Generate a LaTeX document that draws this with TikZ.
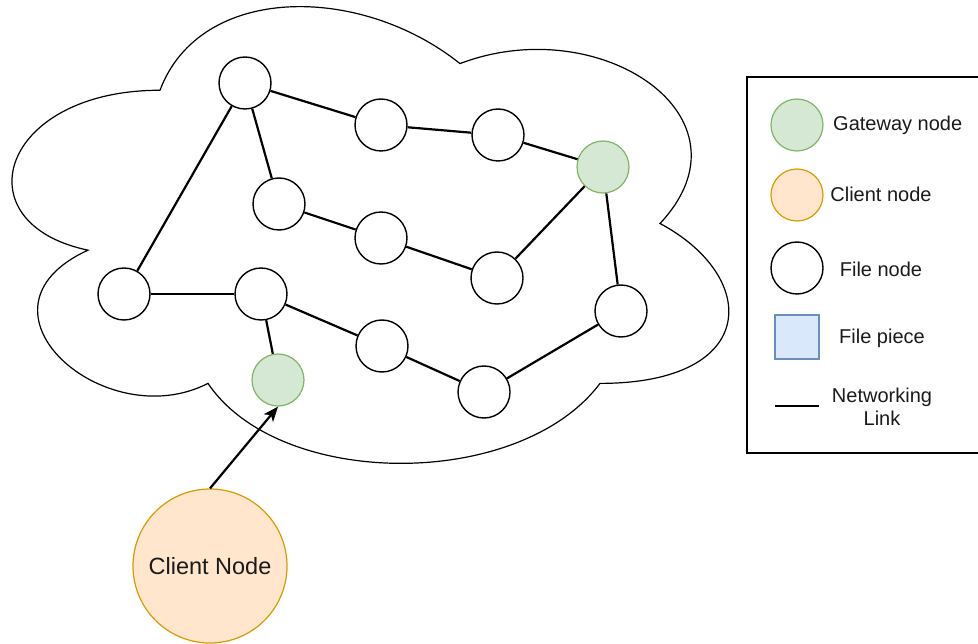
\documentclass[tikz,border=0pt]{standalone}
\usepackage{fontspec}
\setmainfont{Liberation Sans}
\usetikzlibrary{arrows.meta}
\definecolor{gwfill}{HTML}{D5E8D4}
\definecolor{gwline}{HTML}{82B366}
\definecolor{clfill}{HTML}{FFE6CC}
\definecolor{clline}{HTML}{D79B00}
\definecolor{fpfill}{HTML}{DAE8FC}
\definecolor{fpline}{HTML}{6C8EBF}
\definecolor{txt}{HTML}{1A1A1A}
\tikzset{
  filenode/.style={circle, draw=black, line width=1.4pt, fill=white, minimum size=52pt, inner sep=0pt},
  gatenode/.style={circle, draw=gwline, line width=1.2pt, fill=gwfill, minimum size=52pt, inner sep=0pt},
  clientbig/.style={circle, draw=clline, line width=1.2pt, fill=clfill, minimum size=154pt, inner sep=0pt, font=\fontsize{23.5}{27}\selectfont, text=txt},
  clientsmall/.style={circle, draw=clline, line width=1.2pt, fill=clfill, minimum size=52pt, inner sep=0pt},
  piecebox/.style={rectangle, draw=fpline, line width=1.2pt, fill=fpfill, minimum size=44pt, inner sep=0pt},
  netlink/.style={line width=2.2pt, black},
  legtext/.style={font=\fontsize{20}{23}\selectfont, text=txt, align=center, inner sep=0pt},
  cloudline/.style={line width=1.2pt, black}
}
\begin{document}
\begin{tikzpicture}[x=1pt, y=-1pt]
\useasboundingbox (0,0) rectangle (978,644);
% cloud
\draw[cloudline] (160,90.25)
  .. controls (0,90.25) and (-40,223.5) .. (88,250.15)
  .. controls (-40,308.8) and (104,436.7) .. (208,383.4)
  .. controls (280,490) and (520,490) .. (600,383.4)
  .. controls (760,383.4) and (760,276.8) .. (660,223.5)
  .. controls (760,116.9) and (600,10.3) .. (460,63.6)
  .. controls (360,-16.35) and (200,-16.35) .. (160,90.25) -- cycle;
% nodes
\node[filenode] (A) at (245,83) {};
\node[filenode] (B) at (381,125) {};
\node[filenode] (C) at (498,135) {};
\node[gatenode] (G1) at (603,167) {};
\node[filenode] (D) at (279,204) {};
\node[filenode] (E) at (381,238) {};
\node[filenode] (F) at (497,278) {};
\node[filenode] (H) at (124,294) {};
\node[filenode] (I) at (261,294) {};
\node[filenode] (J) at (382,346) {};
\node[filenode] (K) at (621,311) {};
\node[filenode] (L) at (484,392) {};
\node[gatenode] (G2) at (278,380) {};
\node[clientbig] (CL) at (210,566) {Client Node};
% links
\draw[netlink] (A) -- (B);
\draw[netlink] (B) -- (C);
\draw[netlink] (C) -- (G1);
\draw[netlink] (A) -- (D);
\draw[netlink] (D) -- (E);
\draw[netlink] (E) -- (F);
\draw[netlink] (F) -- (G1);
\draw[netlink] (G1) -- (K);
\draw[netlink] (A) -- (H);
\draw[netlink] (H) -- (I);
\draw[netlink] (I) -- (J);
\draw[netlink] (J) -- (L);
\draw[netlink] (L) -- (K);
\draw[netlink] (I) -- (G2);
\draw[netlink, -{Stealth[length=15pt, width=12pt, inset=4pt]}] (CL.north) -- (G2.south);
% legend
\draw[line width=1.6pt, black] (747,77) rectangle (982,453);
\node[gatenode] (lg) at (797,125) {};
\node[legtext, anchor=west] (lgt) at (833,125) {Gateway node};
\node[clientsmall] (lc) at (797,195) {};
\node[legtext] (lct) at (881,194) {Client node};
\node[filenode] (lf) at (797,268) {};
\node[legtext] (lft) at (881,269) {File node};
\node[piecebox] (lp) at (797,337) {};
\node[legtext] (lpt) at (882,338) {File piece};
\coordinate (ln1) at (775,406);
\coordinate (ln2) at (819,406);
\draw[netlink] (ln1) -- (ln2);
\node[legtext] (lnt) at (882,407) {Networking\\Link};
\end{tikzpicture}
\end{document}
